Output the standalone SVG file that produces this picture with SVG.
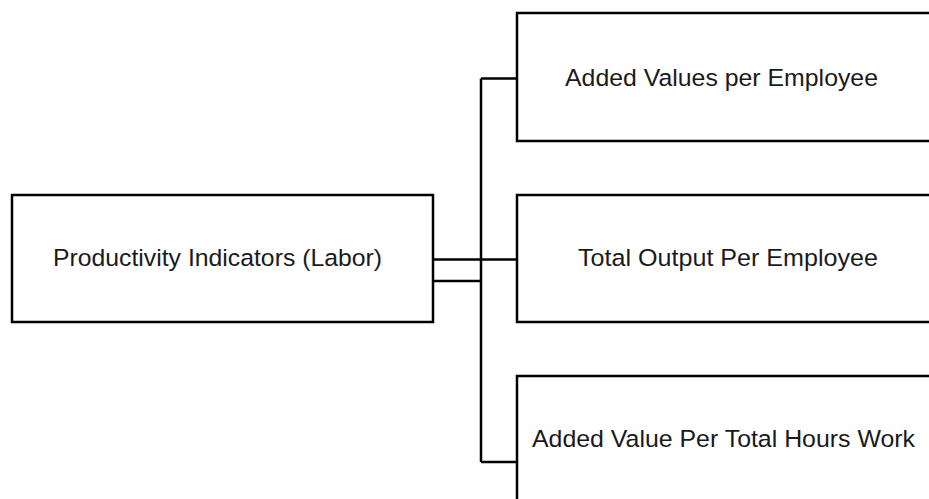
<svg xmlns="http://www.w3.org/2000/svg" width="929" height="499" viewBox="0 0 929 499">
<style>
.box{fill:#fff;stroke:#000;stroke-width:2.5}
.lbl{font-family:"Liberation Sans",Arial,sans-serif;font-size:24.5px;fill:#1a1a1a}
.con{fill:none;stroke:#000;stroke-width:2.5}
</style>
<rect width="929" height="499" fill="#fff"/>
<g id="connectors">
<path class="con" d="M433 259.5H517M433 281H481M481 78.5V462M481 78.5H517M481 462H517"/>
</g>
<g id="node-productivity">
<rect class="box" x="12" y="195" width="421" height="127"/>
<text class="lbl" x="53" y="266" textLength="329" lengthAdjust="spacingAndGlyphs">Productivity Indicators (Labor)</text>
</g>
<g id="node-added-values">
<rect class="box" x="517" y="13" width="420" height="128"/>
<text class="lbl" x="565" y="85.5" textLength="313" lengthAdjust="spacingAndGlyphs">Added Values per Employee</text>
</g>
<g id="node-total-output">
<rect class="box" x="517" y="195" width="420" height="127"/>
<text class="lbl" x="578" y="266" textLength="300" lengthAdjust="spacingAndGlyphs">Total Output Per Employee</text>
</g>
<g id="node-added-value-hours">
<rect class="box" x="517" y="376" width="420" height="140"/>
<text class="lbl" x="532" y="446.5" textLength="383" lengthAdjust="spacingAndGlyphs">Added Value Per Total Hours Work</text>
</g>
</svg>
